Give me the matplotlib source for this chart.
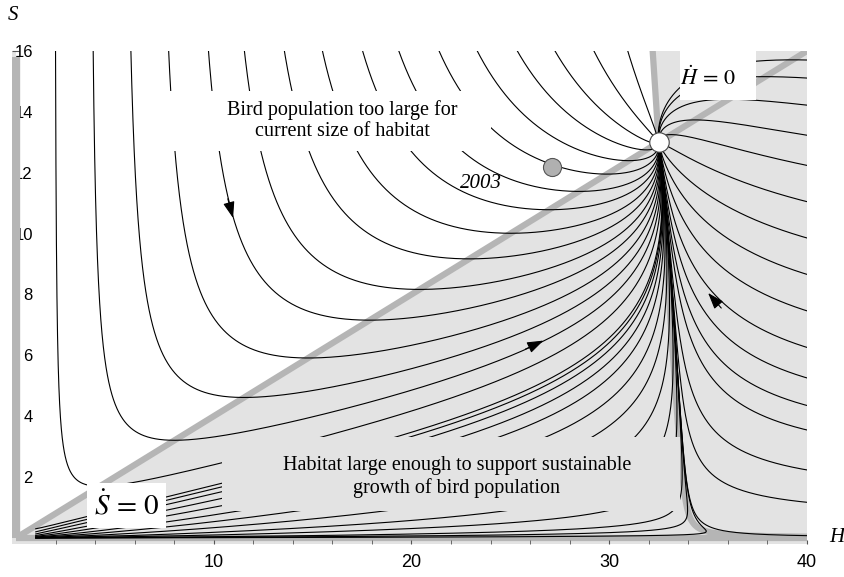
import numpy as np
import matplotlib
matplotlib.use("Agg")
import matplotlib.pyplot as plt
from matplotlib.patches import Rectangle

# equilibrium and nullcline parameters
H_EQ, S_EQ = 32.5, 13.0
SLOPE = 0.4           # S-nullcline S = 0.4 H
RATE_S, RATE_H = 1.6, 1.0
POWER = 3
TILT, BEND = 0.1, 0.25

# where the drawn trajectories enter the picture
top_start_H = [2.0, 3.9, 5.8, 7.7, 9.7, 11.5, 13.5, 15.4, 17.4, 19.2,
               21.2, 23.1, 25.1, 27.0, 29.0, 30.8]
right_start_S = [15.7, 15.1, 14.2, 13.2, 12.2, 11.0, 9.8, 8.6, 7.4, 6.2,
                 5.2, 4.3, 3.5, 2.2, 1.15, 0.07]
origin_start_S = [0.3, 0.2, 0.13, 0.08, 0.05, 0.03, 0.018, 0.01, 0.005,
                  0.0025, 0.001, 0.0005, 0.0002]

point_2003 = (27.1, 12.2)
arrow_points = [(10.9, 10.7), (26.4, 6.4), (35.2, 7.9)]

x_ticks = [10, 20, 30, 40]
y_ticks = [2, 4, 6, 8, 10, 12, 14, 16]

PX, PY = 19.78, 30.44   # pixels per data unit


def h_null(S):
    return H_EQ + TILT * (S_EQ - S) + BEND / S - BEND / S_EQ


def field(H, S):
    dS = RATE_S * S * (1 - S / (SLOPE * H))
    dH = RATE_H * H * (1 - (H / h_null(S)) ** POWER)
    return dH, dS


def unit(H, S):
    dH, dS = field(H, S)
    n = np.hypot(dH * PX, dS * PY) + 1e-12
    return dH / n, dS / n


def trace(H0, S0, n=2500, ds=1.0):
    H = np.array(H0, float)
    S = np.array(S0, float)
    alive = np.ones_like(H, bool)
    outH, outS = [H.copy()], [S.copy()]
    for _ in range(n):
        a1, b1 = unit(H, S)
        a2, b2 = unit(H + 0.5 * ds * a1, S + 0.5 * ds * b1)
        a3, b3 = unit(H + 0.5 * ds * a2, S + 0.5 * ds * b2)
        a4, b4 = unit(H + ds * a3, S + ds * b3)
        Hn = H + ds * (a1 + 2 * a2 + 2 * a3 + a4) / 6
        Sn = S + ds * (b1 + 2 * b2 + 2 * b3 + b4) / 6
        H = np.where(alive, Hn, H)
        S = np.where(alive, Sn, S)
        near = np.hypot((H - H_EQ) * PX, (S - S_EQ) * PY) < 1.5
        out = (H < 0.05) | (H > 40.5) | (S > 16.5) | (S <= 0)
        hs, ss = H.copy(), S.copy()
        hs[~alive] = np.nan
        ss[~alive] = np.nan
        outH.append(hs)
        outS.append(ss)
        alive &= ~(near | out)
        if not alive.any():
            break
    return np.array(outH).T, np.array(outS).T


starts_H = (list(top_start_H) + [40.3] * len(right_start_S)
            + [1.0] * len(origin_start_S))
starts_S = [16.3] * len(top_start_H) + list(right_start_S) + list(origin_start_S)
paths_H, paths_S = trace(starts_H, starts_S)

plt.rcParams['mathtext.fontset'] = 'stix'
fig = plt.figure(figsize=(8.45, 5.77), dpi=100)
ax = fig.add_axes([12 / 845, 33 / 577, 795 / 845, 493 / 577])
ax.set_xlim(-0.2, 40)
ax.set_ylim(-0.2, 16)
ax.set_facecolor('#e3e3e3')
for sp in ax.spines.values():
    sp.set_visible(False)

gray = '#b5b5b5'
# white region: above S-nullcline and left of H-nullcline
s_up = np.linspace(S_EQ, 16.2, 50)
poly_H = np.concatenate([[0, 0], h_null(s_up[::-1]), [H_EQ]])
poly_S = np.concatenate([[0, 16.2], s_up[::-1], [S_EQ]])
ax.fill(poly_H, poly_S, color='white', lw=0, zorder=0.5)

# nullclines
ax.plot([0, 40], [0, 40 * SLOPE], color=gray, lw=4.5, zorder=1.5,
        solid_capstyle='butt')
s_null = np.geomspace(0.03, 16, 300)
ax.plot(h_null(s_null), s_null, color=gray, lw=4.5, zorder=1.5)
ax.plot([0, 40], [0, 0], color=gray, lw=4.5, zorder=1.5, solid_capstyle='butt')
ax.plot([0, 0], [0, 15.8], color=gray, lw=6, zorder=3, solid_capstyle='butt')

for h, s in zip(paths_H, paths_S):
    ax.plot(h, s, color='black', lw=0.8, zorder=2)

for (h, s) in arrow_points:
    dh, ds = unit(h, s)
    ax.annotate('', xy=(h + 6 * dh, s + 6 * ds), xytext=(h - 14 * dh, s - 14 * ds),
                arrowprops=dict(arrowstyle='-|>,head_length=1.0,head_width=0.35',
                                color='black', lw=0.8, shrinkA=0, shrinkB=0),
                zorder=2.2)

serif = 'Liberation Serif'
# text boxes
ax.add_patch(Rectangle((6.8, 12.7), 17.2, 2.0, color='white', zorder=4, lw=0))
ax.text(16.5, 13.7, 'Bird population too large for\ncurrent size of habitat',
        ha='center', va='center', family=serif, fontsize=14.5,
        linespacing=1.15, zorder=5)
ax.add_patch(Rectangle((10.4, 0.9), 23.2, 2.4, color='#e3e3e3', zorder=4, lw=0))
ax.text(22.3, 2.0, 'Habitat large enough to support sustainable\n'
        'growth of bird population', ha='center', va='center',
        family=serif, fontsize=14.5, linespacing=1.15, zorder=5)
ax.add_patch(Rectangle((3.6, 0.33), 4.0, 1.47, color='white', zorder=4, lw=0))
ax.text(5.6, 1.05, r'$\dot{S}\,=\,0$', ha='center', va='center', fontsize=21,
        zorder=5)
ax.add_patch(Rectangle((33.6, 14.4), 3.8, 1.6, color='white', zorder=4, lw=0))
ax.text(35.0, 15.15, r'$\dot{H}\,=\,0$', ha='center', va='center', fontsize=16,
        zorder=5)

ax.plot(*point_2003, 'o', ms=13, mfc='#b0b0b0', mec='#555555', mew=0.8,
        zorder=6)
ax.text(point_2003[0] - 3.6, point_2003[1] - 0.55, '2003', family=serif,
        style='italic', fontsize=15, ha='center', va='center', zorder=6)
ax.plot(H_EQ, S_EQ, 'o', ms=14, mfc='white', mec='#444444', mew=0.8,
        zorder=6)

ax.set_xticks(x_ticks)
ax.set_xticks(np.arange(2, 40, 2), minor=True)
ax.set_yticks(y_ticks)
ax.set_yticklabels([str(v) for v in y_ticks])
ax.tick_params(axis='x', which='both', direction='in', length=3,
               color='#555555', pad=7, labelsize=13)
ax.tick_params(axis='y', direction='in', length=5, color='#555555',
               pad=-15, labelsize=12)
for lab in ax.get_xticklabels() + ax.get_yticklabels():
    lab.set_family('Liberation Sans')

fig.text(13 / 845, 1 - 15 / 577, 'S', family=serif, style='italic',
         fontsize=15, ha='center', va='center')
fig.text(837 / 845, 1 - 537 / 577, 'H', family=serif, style='italic',
         fontsize=15, ha='center', va='center')

fig.savefig('out.png', dpi=100)
